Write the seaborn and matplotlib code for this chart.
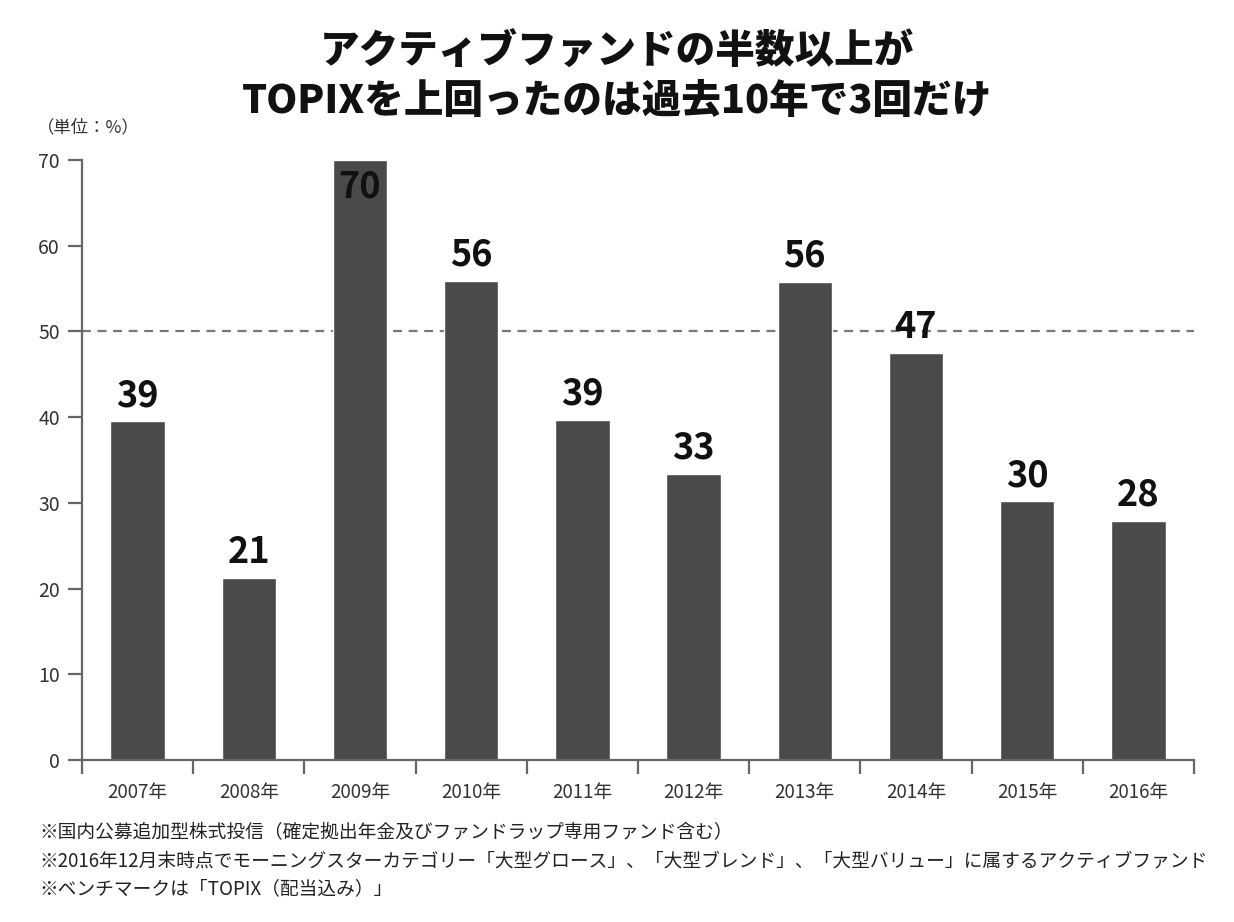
import matplotlib
matplotlib.use('Agg')
import matplotlib.pyplot as plt
import seaborn as sns
import pandas as pd

years = ['2007年', '2008年', '2009年', '2010年', '2011年',
         '2012年', '2013年', '2014年', '2015年', '2016年']
share = [39.5, 21.2, 70.0, 55.9, 39.7, 33.4, 55.8, 47.5, 30.2, 27.9]
share_labels = ['39', '21', '70', '56', '39', '33', '56', '47', '30', '28']
yticks = [0, 10, 20, 30, 40, 50, 60, 70]
benchmark = 50

title = 'アクティブファンドの半数以上が\nTOPIXを上回ったのは過去10年で3回だけ'
unit = '（単位：%）'
notes = ['※国内公募追加型株式投信（確定拠出年金及びファンドラップ専用ファンド含む）',
         '※2016年12月末時点でモーニングスターカテゴリー「大型グロース」、「大型ブレンド」、「大型バリュー」に属するアクティブファンド',
         '※ベンチマークは「TOPIX（配当込み）」']

sns.set_style('white')
plt.rcParams['font.family'] = ['Noto Sans CJK JP', 'DejaVu Sans']

df = pd.DataFrame({'year': years, 'share': share})

fig = plt.figure(figsize=(12.34, 9.22), dpi=100)
ax = fig.add_axes([0.0665, 0.1757, 0.901, 0.6508])

sns.barplot(data=df, x='year', y='share', color='#4a4a4a', saturation=1,
            width=0.49, ax=ax)

ax.axhline(benchmark, color='#777777', linestyle=(0, (4, 3)), linewidth=1.6, zorder=0)

ax.set_xlim(-0.5, len(years) - 0.5)
ax.set_ylim(0, 70)
ax.set_yticks(yticks)
ax.set_xlabel('')
ax.set_ylabel('')

for s in ['top', 'right']:
    ax.spines[s].set_visible(False)
for s in ['left', 'bottom']:
    ax.spines[s].set_color('#666666')
    ax.spines[s].set_linewidth(1.6)

ax.tick_params(axis='y', left=True, length=10, width=1.6, color='#666666',
               labelsize=14, labelcolor='#333333', pad=6)
ax.tick_params(axis='x', which='major', bottom=True, length=0, labelsize=13.5,
               labelcolor='#333333', pad=16)
ax.set_xticks([i - 0.5 for i in range(len(years) + 1)], minor=True)
ax.tick_params(axis='x', which='minor', bottom=True, length=10, width=1.6,
               color='#666666')

for bar, lab in zip(ax.patches, share_labels):
    cx = bar.get_x() + bar.get_width() / 2
    h = bar.get_height()
    if h >= 68:
        ax.text(cx, h - 1.0, lab, ha='center', va='top', fontsize=26,
                fontweight='bold', color='#111111')
    else:
        ax.text(cx, h + 0.8, lab, ha='center', va='bottom', fontsize=26,
                fontweight='bold', color='#111111')

fig.text(0.5, 0.965, title, ha='center', va='top', fontsize=28.5,
         fontweight='heavy', linespacing=1.3, color='#111111')
fig.text(0.03, 0.862, unit, ha='left', va='center', fontsize=12.5, color='#333333')

for i, n in enumerate(notes):
    fig.text(0.032, 0.097 - i * 0.0305, n, ha='left', va='center',
             fontsize=13.5, color='#222222')

fig.savefig('out.png', dpi=100)
